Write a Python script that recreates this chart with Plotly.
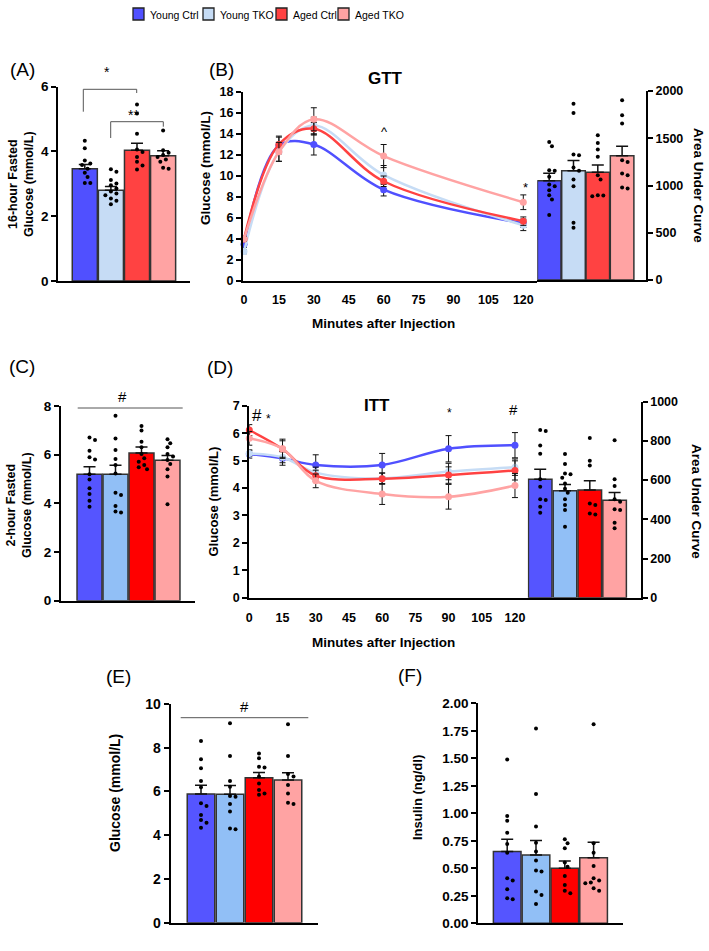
import plotly.graph_objects as go

W, H = 709, 951
FONT = "Liberation Sans, Arial, Helvetica, sans-serif"

groups = ["Young Ctrl", "Young TKO", "Aged Ctrl", "Aged TKO"]
col_ab = ["#5050FF", "#C6DCF5", "#FF4242", "#FFA3A3"]
col_cf = ["#5555FF", "#91BFF6", "#FF0000", "#FFA3A3"]
line_cols = ["#5050FF", "#C6DCF5", "#FF4242", "#FFA3A3"]

# (A) 16-hour fasted glucose
a_mean = [3.47, 2.80, 4.04, 3.87]
a_sem = [0.13, 0.12, 0.21, 0.15]
a_dots = [
    [4.33, 4.10, 3.72, 3.63, 3.58, 3.47, 3.34, 3.21, 3.03, 3.03],
    [3.45, 3.37, 3.12, 3.01, 2.96, 2.86, 2.76, 2.70, 2.65, 2.55, 2.48, 2.37],
    [5.45, 5.17, 4.55, 4.06, 3.98, 3.83, 3.68, 3.57, 3.44],
    [4.65, 4.04, 3.96, 3.89, 3.83, 3.75, 3.68, 3.50, 3.47],
]

# (B) GTT
gtt_time = [0, 15, 30, 60, 120]
gtt_mean = [
    [3.5, 12.9, 13.0, 8.7, 5.5],
    [2.8, 12.3, 14.8, 10.1, 5.3],
    [4.0, 13.0, 14.5, 9.5, 5.7],
    [4.0, 12.3, 15.4, 11.9, 7.5],
]
gtt_sem = [
    [0.3, 0.8, 1.0, 0.6, 0.4],
    [0.2, 0.9, 0.8, 0.9, 0.5],
    [0.2, 0.8, 0.6, 0.5, 0.4],
    [0.2, 0.9, 1.1, 1.1, 0.7],
]
gtt_auc_mean = [1050, 1155, 1140, 1315]
gtt_auc_sem = [80, 110, 77, 100]
gtt_auc_dots = [
    [1461, 1415, 1162, 1155, 1092, 1010, 993, 951, 898, 852, 687],
    [1866, 1768, 1327, 1320, 1190, 1155, 1063, 993, 606, 553],
    [1532, 1451, 1380, 1303, 1109, 1063, 898, 895, 887],
    [1901, 1743, 1655, 1268, 1250, 1127, 1109, 979, 968],
]

# (C) 2-hour fasted glucose
c_mean = [5.20, 5.20, 6.07, 5.77]
c_sem = [0.30, 0.37, 0.25, 0.20]
c_dots = [
    [6.71, 6.60, 6.16, 5.89, 5.80, 5.20, 4.98, 4.62, 4.38, 4.11, 3.86],
    [7.60, 6.66, 6.19, 5.82, 5.58, 5.23, 4.44, 4.34, 3.89, 3.66, 3.62],
    [7.18, 6.99, 6.53, 6.30, 6.03, 5.85, 5.71, 5.58, 5.48, 5.40],
    [6.63, 6.47, 6.30, 6.03, 5.92, 5.78, 5.62, 5.40, 5.10, 3.96],
]

# (D) ITT
itt_time = [0, 15, 30, 60, 90, 120]
itt_mean = [
    [5.24, 5.08, 4.84, 4.84, 5.43, 5.56],
    [5.26, 5.12, 4.56, 4.35, 4.60, 4.76],
    [6.11, 5.42, 4.45, 4.34, 4.47, 4.64],
    [5.81, 5.43, 4.26, 3.78, 3.68, 4.09],
]
itt_sem = [
    [0.15, 0.25, 0.37, 0.42, 0.48, 0.46],
    [0.10, 0.20, 0.20, 0.20, 0.30, 0.30],
    [0.20, 0.30, 0.20, 0.20, 0.30, 0.35],
    [0.25, 0.35, 0.25, 0.38, 0.45, 0.44],
]
itt_auc_mean = [604, 546, 549, 497]
itt_auc_sem = [51, 32, 48, 40]
itt_auc_dots = [
    [855, 850, 777, 735, 604, 566, 502, 498, 464, 434],
    [733, 682, 634, 630, 612, 583, 556, 536, 502, 473, 447, 362],
    [815, 699, 675, 481, 473, 430, 425],
    [803, 604, 570, 502, 490, 451, 447, 383, 354],
]

# (E) glucose
e_mean = [5.88, 5.87, 6.63, 6.52]
e_sem = [0.40, 0.40, 0.24, 0.34]
e_dots = [
    [8.31, 7.47, 7.06, 6.48, 6.19, 5.46, 5.34, 4.92, 4.70, 4.57, 4.34],
    [9.12, 7.62, 6.48, 6.22, 5.79, 5.76, 5.43, 5.08, 4.31, 4.27],
    [7.74, 7.52, 7.13, 7.10, 6.68, 6.37, 6.07, 5.91, 5.85],
    [9.07, 7.62, 6.80, 6.68, 6.30, 5.91, 5.49, 5.43],
]

# (F) insulin
f_mean = [0.652, 0.621, 0.500, 0.597]
f_sem = [0.112, 0.131, 0.067, 0.139]
f_dots = [
    [1.49, 0.976, 0.933, 0.824, 0.721, 0.642, 0.409, 0.388, 0.309, 0.227, 0.218],
    [1.77, 1.176, 0.879, 0.733, 0.652, 0.570, 0.479, 0.470, 0.288, 0.258, 0.176],
    [0.764, 0.727, 0.682, 0.552, 0.515, 0.430, 0.348, 0.297, 0.273],
    [1.81, 0.727, 0.642, 0.521, 0.409, 0.388, 0.370, 0.364, 0.318, 0.297],
]

# tick labels
a_ticks = [0, 2, 4, 6]
gtt_yticks = [0, 2, 4, 6, 8, 10, 12, 14, 16, 18]
time_ticks = [0, 15, 30, 45, 60, 75, 90, 105, 120]
gtt_auc_ticks = [0, 500, 1000, 1500, 2000]
c_ticks = [0, 2, 4, 6, 8]
itt_yticks = [0, 1, 2, 3, 4, 5, 6, 7]
itt_auc_ticks = [0, 200, 400, 600, 800, 1000]
e_ticks = [0, 2, 4, 6, 8, 10]
f_ticks = [0, 0.25, 0.5, 0.75, 1.0, 1.25, 1.5, 1.75, 2.0]


def fx(p):
    return p / W


def fy(p):
    return 1 - p / H


def swarm(vals, upx, xpx, d=4.6):
    order = sorted(range(len(vals)), key=lambda i: -vals[i])
    placed = []
    offs = [0.0] * len(vals)
    for i in order:
        y = vals[i] * upx
        x = 0.0
        for k in [0, 1, -1, 2, -2, 3, -3, 4, -4, 5, -5]:
            x = k * d * 0.6
            if all((x - px) ** 2 + (y - py) ** 2 >= d * d for px, py in placed):
                break
        placed.append((x, y))
        offs[i] = x / xpx
    return offs


fig = go.Figure()


def bar_panel(xa, ya, means, sems, dots, cols, upx, xpx, width):
    fig.add_trace(go.Bar(
        x=list(range(4)), y=means, width=width, marker=dict(color=cols, line=dict(color="#333333", width=1.5)),
        error_y=dict(type="data", array=sems, arrayminus=[0] * 4, symmetric=False,
                     color="#111111", thickness=1.5, width=6),
        xaxis=xa, yaxis=ya, showlegend=False, hoverinfo="skip"))
    xs, ys = [], []
    for g, vals in enumerate(dots):
        offs = swarm(vals, upx, xpx)
        xs += [g + o for o in offs]
        ys += vals
    fig.add_trace(go.Scatter(x=xs, y=ys, mode="markers", marker=dict(color="black", size=4),
                             xaxis=xa, yaxis=ya, showlegend=False, cliponaxis=False, hoverinfo="skip"))


def line_panel(xa, ya, times, means, sems):
    for g in range(4):
        fig.add_trace(go.Scatter(
            x=times, y=means[g], mode="lines+markers",
            line=dict(color=line_cols[g], width=2.5, shape="spline", smoothing=1.0),
            marker=dict(color=line_cols[g], size=7),
            error_y=dict(type="data", array=sems[g], color="#111111", thickness=1, width=3),
            xaxis=xa, yaxis=ya, showlegend=False, cliponaxis=False, hoverinfo="skip"))


bar_panel("x", "y", a_mean, a_sem, a_dots, col_ab, 32.4, 26.1, 0.96)
line_panel("x2", "y2", gtt_time, gtt_mean, gtt_sem)
bar_panel("x3", "y3", gtt_auc_mean, gtt_auc_sem, gtt_auc_dots, col_ab, 0.0945, 24.3, 0.97)
bar_panel("x4", "y4", c_mean, c_sem, c_dots, col_cf, 24.3, 26.0, 0.96)
line_panel("x5", "y5", itt_time, itt_mean, itt_sem)
bar_panel("x6", "y6", itt_auc_mean, itt_auc_sem, itt_auc_dots, col_cf, 0.196, 24.8, 0.95)
bar_panel("x7", "y7", e_mean, e_sem, e_dots, col_cf, 21.87, 29.0, 0.95)
bar_panel("x8", "y8", f_mean, f_sem, f_dots, col_cf, 110.0, 28.8, 0.96)


def axis_style(size=13, ticks_list=None, fmt="{:g}", **kw):
    d = dict(showline=True, linecolor="black", linewidth=2, ticks="outside", tickwidth=2, ticklen=5,
             tickcolor="black", showgrid=False, zeroline=False, fixedrange=True,
             tickfont=dict(family=FONT, size=size, color="black", weight="bold"))
    if ticks_list is not None:
        d["tickmode"] = "array"
        d["tickvals"] = ticks_list
        d["ticktext"] = ["<b>" + fmt.format(t) + "</b>" for t in ticks_list]
    d.update(kw)
    return d


def cat_x(a, b, c0, s, anchor):
    return axis_style(domain=[fx(a), fx(b)], range=[(a - c0) / s, (b - c0) / s], ticks="",
                      showticklabels=False, anchor=anchor)


layout = dict(
    width=W, height=H, margin=dict(l=0, r=0, t=0, b=0, pad=0, autoexpand=False),
    paper_bgcolor="white", plot_bgcolor="rgba(0,0,0,0)",
    showlegend=False, font=dict(family=FONT, color="black"),
    # A
    xaxis=cat_x(58.3, 190, 84.8, 26.1, "y"),
    yaxis=axis_style(13.5, a_ticks, domain=[fy(281), fy(86.7)], range=[0, 6], anchor="x"),
    # B line
    xaxis2=axis_style(12.5, time_ticks, domain=[fx(243), fx(537.3)],
                      range=[(243 - 244) / 2.3275, (537.3 - 244) / 2.3275], anchor="y2",
                      ticklen=6, tickcolor="rgba(0,0,0,0)"),
    yaxis2=axis_style(12.5, gtt_yticks, domain=[fy(281), fy(92)], range=[0, 18], anchor="x2"),
    # B bars
    xaxis3=cat_x(537.3, 646, 549.2, 24.3, "y3"),
    yaxis3=axis_style(12.5, gtt_auc_ticks, domain=[fy(280), fy(91)], range=[0, 2000], anchor="x3", side="right"),
    # C
    xaxis4=cat_x(61, 195, 89.5, 26.0, "y4"),
    yaxis4=axis_style(13.5, c_ticks, domain=[fy(600.7), fy(406)], range=[0, 8], anchor="x4"),
    # D line
    xaxis5=axis_style(12.5, time_ticks, domain=[fx(249.3), fx(527.7)], range=[0, (527.7 - 249.3) / 2.214],
                      anchor="y5", ticklen=7, tickcolor="rgba(0,0,0,0)"),
    yaxis5=axis_style(12.5, itt_yticks, domain=[fy(597.7), fy(405.7)], range=[0, 7], anchor="x5"),
    # D bars
    xaxis6=cat_x(527.7, 640.7, 540.2, 24.8, "y6"),
    yaxis6=axis_style(12.5, itt_auc_ticks, domain=[fy(597.7), fy(401.7)], range=[0, 1000], anchor="x6",
                      side="right"),
    # E
    xaxis7=cat_x(170.7, 318, 201, 29.0, "y7"),
    yaxis7=axis_style(14, e_ticks, domain=[fy(922.7), fy(704)], range=[0, 10], anchor="x7"),
    # F
    xaxis8=cat_x(478.3, 623, 507.2, 28.8, "y8"),
    yaxis8=axis_style(13.5, f_ticks, "{:.2f}", domain=[fy(923.3), fy(703.3)], range=[0, 2], anchor="x8"),
)
fig.update_layout(**layout)

anns = []
shapes = []


def ann(text, x, y, size, bold=True, angle=0, xanchor="center", family=FONT):
    anns.append(dict(text=text, x=fx(x), y=fy(y), xref="paper", yref="paper", showarrow=False,
                     textangle=angle, xanchor=xanchor, yanchor="middle",
                     font=dict(family=family, size=size, color="black", weight="bold" if bold else "normal")))


def seg(x0, y0, x1, y1, color="#555555", w=1):
    shapes.append(dict(type="line", xref="paper", yref="paper", x0=fx(x0), y0=fy(y0), x1=fx(x1), y1=fy(y1),
                       line=dict(color=color, width=w)))


# panel labels
ann("(A)", 22, 70, 19, bold=False)
ann("(B)", 221, 70, 19, bold=False)
ann("(C)", 22, 366, 19, bold=False)
ann("(D)", 220, 367, 19, bold=False)
ann("(E)", 119, 676, 19, bold=False)
ann("(F)", 410, 675, 19, bold=False)

# axis titles
ann("16-hour Fasted<br>Glucose (mmol/L)", 21, 184, 12.5, angle=-90)
ann("Glucose (mmol/L)", 205, 168, 13.5, angle=-90)
ann("Area Under Curve", 699, 185, 13.5, angle=90)
ann("Minutes after Injection", 383, 323, 13.5)
ann("GTT", 385, 78, 17)
ann("2-hour Fasted<br>Glucose (mmol/L)", 19, 505, 12.5, angle=-90)
ann("Glucose (mmol/L)", 212.5, 501, 13, angle=-90)
ann("Area Under Curve", 697, 501, 13.5, angle=90)
ann("Minutes after Injection", 383, 642, 13.5)
ann("ITT", 377, 405, 17)
ann("Glucose (mmol/L)", 115, 793, 14, angle=-90)
ann("Insulin (ng/dl)", 417, 798, 13, angle=-90)

# significance marks
seg(83.3, 111.7, 83.3, 89.3); seg(83.3, 89.3, 136.7, 89.3); seg(136.7, 89.3, 136.7, 93)
ann("*", 106.7, 72, 14, bold=False)
seg(110.7, 138, 110.7, 121.7); seg(110.7, 121.7, 163.3, 121.7); seg(163.3, 121.7, 163.3, 126.7)
ann("**", 133.3, 115, 14, bold=False)
ann("^", 384, 131, 13, bold=False)
ann("*", 525, 187, 13, bold=False)
seg(77.7, 408, 182.7, 408)
ann("#", 122, 396, 15, bold=False)
ann("#", 257, 416, 17, bold=False)
ann("*", 268, 419, 12, bold=False)
ann("*", 449, 413, 12, bold=False)
ann("#", 513, 409, 15, bold=False)
seg(180.7, 717.7, 308.3, 717.7)
ann("#", 244, 706, 15, bold=False)

# legend
leg_x = [133, 203, 276, 338]
for g in range(4):
    shapes.append(dict(type="rect", xref="paper", yref="paper", x0=fx(leg_x[g]), x1=fx(leg_x[g] + 11),
                       y0=fy(20), y1=fy(8), fillcolor=col_ab[g], line=dict(color="#222222", width=1.3)))
    ann(groups[g], leg_x[g] + 15, 14.5, 10.5, bold=False, xanchor="left")

fig.update_layout(annotations=anns, shapes=shapes)
fig.write_html("out.html", config={"displayModeBar": False},
               post_script="document.body.style.margin='0';document.body.style.padding='0';"
                           "document.documentElement.style.overflow='hidden';")
